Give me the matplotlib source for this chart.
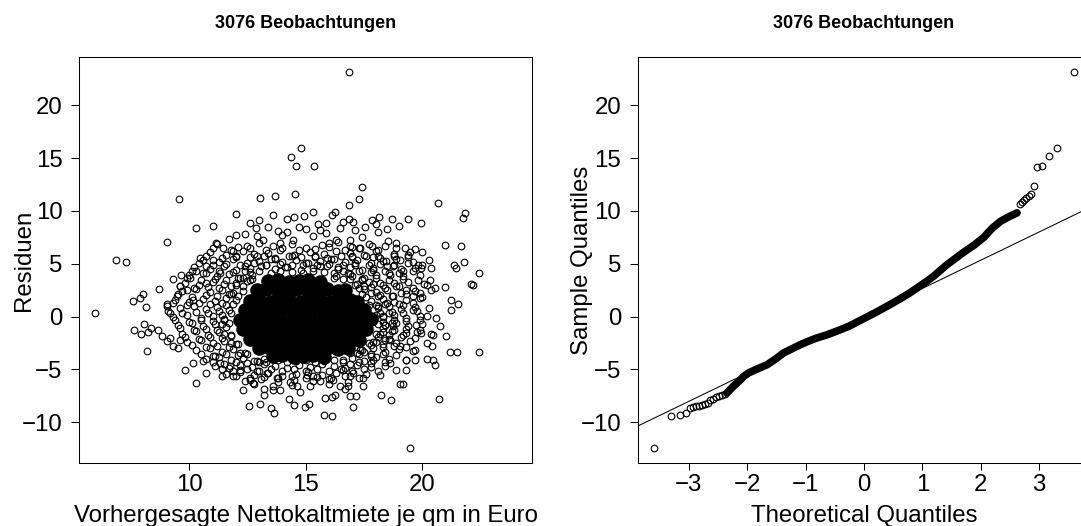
import matplotlib
matplotlib.use("Agg")
import matplotlib.pyplot as plt

plt.rcParams['font.family'] = ['Liberation Sans', 'DejaVu Sans']

TITLE = "3076 Beobachtungen"
X_LABEL_LEFT = "Vorhergesagte Nettokaltmiete je qm in Euro"
Y_LABEL_LEFT = "Residuen"
X_LABEL_RIGHT = "Theoretical Quantiles"
Y_LABEL_RIGHT = "Sample Quantiles"

# --- Residuen vs. vorhergesagte Werte ---
# einzeln sichtbare Punkte am Rand der Wolke
fitted_outer = [
    16.88, 14.78, 14.35, 14.58, 15.34, 17.40, 9.57, 13.03, 13.69, 14.54, 17.31,
    20.67, 16.88, 12.02, 10.27, 9.04, 6.87, 7.30, 5.95, 8.71, 7.58, 7.88, 8.01,
    8.15, 9.31, 9.63, 9.03, 9.06, 21.83, 21.76, 20.99, 21.69, 21.81, 21.36, 21.45,
    22.45, 22.10, 22.19, 21.25, 21.56, 21.25, 20.57, 20.97, 19.40, 19.96, 18.71,
    19.01, 18.15, 17.85, 18.12, 17.55, 17.12, 17.04, 16.87, 16.27, 16.11, 15.87,
    15.54, 14.95, 14.51, 14.18, 15.02, 14.22, 13.83, 13.39, 12.86, 12.40, 12.03,
    18.54, 18.90, 19.25, 19.69, 20.00, 19.40, 19.83, 19.97, 20.40, 20.33, 19.83,
    20.19, 19.90, 19.61, 19.33, 18.90, 18.61, 18.76, 19.16, 18.47, 18.11, 17.83,
    11.17, 11.46, 11.89, 10.46, 10.74, 11.03, 10.03, 10.31, 9.60, 9.89, 9.46,
    10.17, 9.17, 10.74, 11.32, 12.46, 13.18, 13.89, 14.46, 15.32, 15.89, 16.47,
    16.32, 16.90, 17.32, 19.04, 17.90, 18.18, 18.76, 19.18, 20.19, 19.61,
    13.0, 13.6, 15.3, 16.6, 12.6, 14.7, 15.6, 16.0, 17.4, 18.5, 11.0, 11.7, 12.9,
    14.0, 16.9, 18.0,
    19.46, 15.79, 16.12, 13.66, 13.52, 12.56, 13.03, 14.51, 14.96, 15.15, 17.05,
    15.82, 16.11, 16.27, 16.90, 17.17, 18.23, 18.68, 20.74, 14.29, 13.20, 12.29,
    13.20, 13.61, 13.89, 14.32, 14.75, 14.61, 16.48, 16.68, 17.47, 12.75, 12.60,
    10.29, 9.83, 8.20, 7.63, 7.94, 8.06, 8.21, 8.38, 8.64, 8.81, 9.03, 9.31, 9.53,
    9.17, 9.60, 10.17, 10.74, 10.60, 11.03, 11.42, 11.89, 12.17, 18.90, 19.04,
    19.18, 18.18, 19.33, 19.69, 20.19, 20.47, 20.54, 21.19, 21.50, 22.45, 20.44,
    21.04, 20.79, 20.47, 20.19, 19.97, 19.61, 19.33, 18.61, 17.90, 17.47, 17.04,
    16.61, 16.18, 15.61, 15.32, 15.04, 13.75, 13.32, 12.89, 11.75, 11.32, 16.90,
    17.32, 18.61, 19.04, 19.33, 18.76, 19.76,
]
resid_outer = [
    23.13, 15.97, 15.15, 14.24, 14.27, 12.31, 11.17, 11.27, 11.39, 11.62, 11.14,
    10.76, 10.57, 9.72, 8.40, 7.10, 5.37, 5.18, 0.32, 2.62, 1.48, 1.74, 2.15,
    0.88, 3.57, 3.98, 0.98, 1.20, 9.82, 9.34, 6.79, 6.72, 5.21, 4.89, 4.61,
    4.17, 3.13, 3.03, 1.61, 1.20, 0.66, 2.71, 2.81, 9.25, 8.87, 9.25,
    8.62, 9.44, 9.19, 7.99, 8.46, 8.24, 9.00, 9.28, 9.94, 9.66, 8.87,
    8.78, 9.50, 9.44, 9.25, 8.30, 8.02, 8.08, 8.49, 8.40, 7.86, 7.77,
    7.13, 6.98, 6.50, 6.41, 6.09, 5.87, 4.92, 4.61, 4.61, 3.50, 3.44,
    3.03, 2.24, 1.93, 2.56, 2.87, 3.98, 4.77, 4.29, 5.24, 5.71, 6.66,
    6.98, 6.50, 6.19, 5.56, 4.77, 5.40, 3.66, 4.29, 2.87, 2.56, 1.93,
    1.61, 0.35, 3.19, 4.13, 6.66, 7.29, 6.98, 7.29, 7.61, 7.92, 8.40,
    7.29, 7.29, 6.50, 5.40, 4.45, 3.19, 1.93, 1.14, 0.09, 0.66,
    9.1, 9.6, 9.9, 9.0, 8.9, 8.5, 8.2, 7.0, 7.5, 8.3, 8.6, 7.3, 7.6,
    7.7, 6.7, 8.8,
    -12.41, -9.34, -9.44, -9.12, -8.65, -8.43, -8.24, -8.36, -8.59, -8.27, -8.55,
    -7.70, -7.61, -7.39, -7.48, -7.54, -7.39, -7.86, -7.77, -7.77, -7.39, -6.98,
    -6.85, -6.91, -6.91, -6.22, -7.17, -6.60, -6.60, -6.85, -6.60, -6.28, -5.97,
    -6.28, -5.02, -3.22, -1.29, -1.61, -0.66, -1.48, -1.04, -1.29, -1.86, -2.34, -2.81, -2.97,
    -2.02, -2.18, -4.39, -5.33, -4.23, -3.76, -5.65, -5.65, -5.02, -5.02, -6.34,
    -6.34, -5.49, -5.02, -4.07, -4.01, -4.07, -4.55, -3.35, -3.35, -3.35, -2.81,
    -1.86, -0.85, -1.70, -2.49, -1.55, -3.28, -4.07, -4.39, -4.07, -5.81, -5.33,
    -5.02, -5.97, -6.12, -5.65, -5.49, -5.81, -5.33, -5.18, -4.70, -4.39, -3.44,
    -3.12, -2.18, -2.81, -1.55, -0.91, -0.76,
]

# dichte Zone um den Kern (geschaetzt)
fitted_halo = [
    11.2, 12.1, 13.0, 13.6, 14.4, 15.0, 15.7, 16.4, 17.0, 17.7, 18.4,
    10.9, 11.6, 12.3, 12.8, 13.4, 13.9, 14.5, 15.2, 15.8, 16.3, 16.9, 17.5, 18.0, 18.8, 19.5,
    10.6, 11.3, 11.9, 12.5, 13.0, 13.5, 14.0, 14.6, 15.1, 15.6, 16.1, 16.7, 17.2, 17.8, 18.3, 18.9, 19.6, 20.3,
    10.2, 10.9, 11.5, 12.0, 12.6, 13.1, 13.7, 14.2, 14.8, 15.3, 15.9, 16.4, 16.9, 17.4, 17.9, 18.5, 19.1, 19.7,
    10.0, 10.6, 11.2, 11.7, 12.2, 12.7, 16.3, 16.9, 17.5, 18.0, 18.6, 19.2, 19.9,
    9.8, 10.4, 11.0, 11.5, 12.0, 12.5, 17.2, 17.7, 18.3, 18.8, 19.4, 20.1,
    9.7, 10.3, 10.9, 11.4, 11.9, 12.3, 17.5, 18.0, 18.5, 19.1, 19.7, 20.4,
    9.4, 10.0, 10.6, 11.1, 11.6, 12.0, 17.8, 18.3, 18.8, 19.3, 19.9,
    9.6, 10.2, 10.7, 11.2, 11.7, 18.1, 18.6, 19.1, 19.7, 20.3,
    9.3, 9.9, 10.5, 11.0, 11.5, 18.3, 18.8, 19.3, 19.9, 20.6,
    9.5, 10.1, 10.6, 11.1, 11.6, 18.4, 18.9, 19.4, 20.0,
    9.7, 10.3, 10.8, 11.3, 11.8, 18.2, 18.7, 19.2, 19.8, 20.4,
    9.9, 10.5, 11.0, 11.5, 12.0, 17.9, 18.4, 18.9, 19.5,
    10.3, 10.9, 11.4, 11.9, 12.4, 17.4, 17.9, 18.4, 19.0, 19.7,
    10.7, 11.3, 11.8, 12.3, 12.8, 13.2, 16.6, 17.0, 17.5, 18.0, 18.6, 19.3,
    11.1, 11.7, 12.2, 12.7, 13.2, 13.7, 14.2, 14.7, 15.2, 15.7, 16.2, 16.7, 17.2, 17.8, 18.4,
    11.6, 12.2, 12.8, 13.4, 14.0, 14.6, 15.1, 15.7, 16.3, 16.9, 17.6,
    12.4, 13.1, 13.8, 14.5, 15.3, 16.0, 16.8,
    # innerer Ring direkt am Kern
    12.6, 13.0, 13.5, 13.9, 14.4, 14.9, 15.3, 15.8, 16.2, 16.6,
    12.3, 12.7, 16.2, 16.6, 17.0, 17.4,
    12.0, 12.3, 17.1, 17.5, 17.9,
    11.8, 12.1, 17.4, 17.8, 18.1,
    11.6, 11.9, 17.7, 18.1, 18.4,
    11.4, 11.8, 18.0, 18.3, 18.6,
    11.4, 11.7, 18.1, 18.4, 18.7,
    11.5, 11.8, 18.0, 18.3, 18.6,
    11.8, 12.1, 17.7, 18.0, 18.3,
    12.2, 12.5, 17.2, 17.5, 17.8,
    12.9, 13.3, 13.8, 14.2, 14.6, 15.0, 15.4, 15.8, 16.2, 16.6,
    12.4, 13.3, 14.1, 14.9, 15.6, 16.4, 17.1,
    12.0, 12.9, 13.7, 14.4, 15.4, 16.2, 17.0, 17.9,
]
resid_halo = [
    6.9, 6.6, 7.0, 6.7, 6.9, 6.5, 6.8, 7.1, 6.6, 6.9, 6.7,
    6.1, 5.8, 6.2, 5.9, 6.0, 6.3, 5.8, 6.1, 5.9, 6.2, 6.0, 5.8, 6.2, 5.9, 6.1,
    5.4, 5.2, 5.5, 5.1, 5.3, 5.5, 5.2, 5.4, 5.1, 5.3, 5.5, 5.2, 5.4, 5.1, 5.3, 5.5, 5.2, 5.4,
    4.7, 4.5, 4.8, 4.4, 4.6, 4.8, 4.5, 4.7, 4.4, 4.6, 4.8, 4.5, 4.7, 4.4, 4.6, 4.8, 4.5, 4.6,
    3.9, 4.1, 3.8, 4.0, 3.7, 3.9, 3.8, 4.0, 3.7, 3.9, 4.1, 3.8, 3.9,
    3.2, 3.0, 3.3, 3.1, 3.2, 3.4, 3.1, 3.3, 3.0, 3.2, 3.3, 3.1,
    2.4, 2.6, 2.3, 2.5, 2.2, 2.4, 2.6, 2.3, 2.5, 2.2, 2.4, 2.5,
    1.6, 1.4, 1.7, 1.5, 1.8, 1.6, 1.5, 1.7, 1.4, 1.6, 1.8,
    0.8, 1.0, 0.7, 0.9, 0.6, 0.8, 1.0, 0.7, 0.9, 0.8,
    0.0, 0.2, -0.1, 0.1, -0.2, 0.0, 0.2, -0.1, 0.1, -0.1,
    -0.8, -0.6, -0.9, -0.7, -1.0, -0.8, -0.6, -0.9, -0.7,
    -1.6, -1.4, -1.7, -1.5, -1.8, -1.6, -1.4, -1.7, -1.5, -1.6,
    -2.4, -2.2, -2.5, -2.3, -2.6, -2.4, -2.2, -2.5, -2.3,
    -3.2, -3.0, -3.3, -3.1, -3.4, -3.2, -3.0, -3.3, -3.1, -3.2,
    -4.0, -3.8, -4.1, -3.9, -4.2, -4.0, -4.1, -3.9, -4.2, -3.8, -4.0, -4.1,
    -4.7, -4.9, -4.6, -4.8, -4.5, -4.7, -4.9, -4.6, -4.8, -4.5, -4.7, -4.9, -4.6, -4.8, -4.7,
    -5.4, -5.2, -5.5, -5.3, -5.6, -5.4, -5.2, -5.5, -5.3, -5.6, -5.4,
    -6.1, -5.9, -6.2, -6.0, -6.1, -5.9, -6.2,
    4.2, 4.3, 4.1, 4.3, 4.2, 4.1, 4.3, 4.2, 4.1, 4.3,
    3.7, 3.6, 3.7, 3.6, 3.8, 3.6,
    3.0, 2.9, 3.0, 2.9, 3.1,
    2.1, 2.0, 2.1, 2.2, 2.0,
    1.1, 1.2, 1.1, 1.0, 1.2,
    0.2, 0.3, 0.2, 0.1, 0.3,
    -0.7, -0.6, -0.7, -0.8, -0.6,
    -1.6, -1.7, -1.6, -1.5, -1.7,
    -2.5, -2.6, -2.5, -2.4, -2.6,
    -3.4, -3.5, -3.4, -3.3, -3.5,
    -4.2, -4.3, -4.1, -4.3, -4.2, -4.1, -4.3, -4.2, -4.1, -4.3,
    4.8, 4.9, 4.7, 4.9, 4.8, 4.7, 4.9,
    5.6, 5.7, 5.5, 5.7, 5.6, 5.5, 5.7, 5.6,
]

# zweite Lage der dichten Zone, zwischen den Reihen oben (geschaetzt)
fitted_halo2 = [
    11.0, 11.8, 12.6, 13.3, 14.0, 14.7, 15.4, 16.0, 16.7, 17.3, 18.1, 18.9,
    10.7, 11.4, 12.0, 12.6, 13.2, 13.7, 14.3, 14.8, 15.4, 15.9, 16.5, 17.0, 17.6, 18.2, 18.8, 19.4,
    10.4, 11.0, 11.6, 12.2, 12.8, 13.3, 13.9, 14.4, 15.0, 15.5, 16.0, 16.6, 17.1, 17.7, 18.2, 18.8, 19.4, 20.0,
    10.1, 10.7, 11.3, 11.9, 12.4, 16.8, 17.3, 17.8, 18.4, 19.0, 19.6,
    9.9, 10.5, 11.1, 11.6, 12.1, 12.6, 16.9, 17.4, 18.0, 18.6, 19.2,
    9.6, 10.2, 10.8, 11.3, 11.8, 17.3, 17.8, 18.4, 19.0, 19.6,
    9.5, 10.1, 10.7, 11.2, 11.7, 17.6, 18.2, 18.7, 19.3, 20.0,
    9.3, 9.9, 10.4, 10.9, 11.4, 18.0, 18.5, 19.0, 19.6,
    9.1, 9.7, 10.3, 10.8, 11.3, 18.2, 18.7, 19.2, 19.8,
    9.4, 10.0, 10.5, 11.0, 11.5, 18.3, 18.8, 19.3, 19.9,
    9.6, 10.2, 10.7, 11.2, 18.3, 18.8, 19.3, 19.9,
    9.8, 10.4, 10.9, 11.4, 18.1, 18.6, 19.1, 19.7,
    10.1, 10.7, 11.2, 11.7, 17.8, 18.3, 18.8, 19.3,
    10.5, 11.1, 11.6, 12.1, 17.3, 17.8, 18.3, 18.9,
    11.0, 11.5, 12.0, 12.5, 13.0, 16.9, 17.3, 17.8, 18.4,
    11.4, 11.9, 12.5, 13.0, 13.5, 14.0, 14.5, 15.0, 15.5, 16.0, 16.5, 17.0, 17.5, 18.1,
    12.0, 12.6, 13.2, 13.8, 14.4, 15.0, 15.5, 16.1, 16.7, 17.3,
    12.8, 13.6, 14.4, 15.2, 16.0, 16.8,
]
resid_halo2 = [
    6.5, 6.3, 6.45, 6.35, 6.5, 6.3, 6.4, 6.55, 6.3, 6.45, 6.35, 6.5,
    5.75, 5.55, 5.7, 5.6, 5.75, 5.55, 5.7, 5.6, 5.75, 5.55, 5.7, 5.6, 5.75, 5.55, 5.7, 5.6,
    5.05, 4.85, 5.0, 4.9, 5.05, 4.85, 5.0, 4.9, 5.05, 4.85, 5.0, 4.9, 5.05, 4.85, 5.0, 4.9, 5.05, 4.85,
    4.35, 4.15, 4.3, 4.2, 4.35, 4.15, 4.3, 4.2, 4.35, 4.15, 4.3,
    3.65, 3.45, 3.6, 3.5, 3.65, 3.45, 3.6, 3.5, 3.65, 3.45, 3.6,
    2.9, 2.7, 2.85, 2.75, 2.9, 2.7, 2.85, 2.75, 2.9, 2.7,
    2.1, 1.9, 2.05, 1.95, 2.1, 1.9, 2.05, 1.95, 2.1, 1.9,
    1.3, 1.1, 1.25, 1.15, 1.3, 1.1, 1.25, 1.15, 1.3,
    0.5, 0.3, 0.45, 0.35, 0.5, 0.3, 0.45, 0.35, 0.5,
    -0.3, -0.5, -0.35, -0.45, -0.3, -0.5, -0.35, -0.45, -0.3,
    -1.1, -1.3, -1.15, -1.25, -1.1, -1.3, -1.15, -1.25,
    -1.9, -2.1, -1.95, -2.05, -1.9, -2.1, -1.95, -2.05,
    -2.7, -2.9, -2.75, -2.85, -2.7, -2.9, -2.75, -2.85,
    -3.5, -3.7, -3.55, -3.65, -3.5, -3.7, -3.55, -3.65,
    -4.25, -4.45, -4.3, -4.4, -4.25, -4.45, -4.3, -4.4, -4.25,
    -4.95, -5.15, -5.0, -5.1, -4.95, -5.15, -5.0, -5.1, -4.95, -5.15, -5.0, -5.1, -4.95, -5.15,
    -5.65, -5.85, -5.7, -5.8, -5.65, -5.85, -5.7, -5.8, -5.65, -5.85,
    -6.4, -6.6, -6.45, -6.55, -6.4, -6.6,
]

# voll geschwaerzter Kern (Ueberlagerung vieler Punkte, geschaetzt)
fitted_core = [
    13.4, 13.8, 14.3, 14.7, 15.1, 15.6,
    12.9, 13.3, 13.8, 14.2, 14.6, 15.1, 15.5, 15.9, 16.4, 16.7,
    12.6, 13.0, 13.5, 13.9, 14.3, 14.8, 15.2, 15.6, 16.1, 16.5, 16.9, 17.2,
    12.4, 12.8, 13.2, 13.7, 14.1, 14.5, 15.0, 15.4, 15.8, 16.3, 16.7, 17.1, 17.5,
    12.2, 12.6, 13.1, 13.5, 13.9, 14.4, 14.8, 15.2, 15.7, 16.1, 16.5, 17.0, 17.4, 17.8,
    12.3, 12.7, 13.2, 13.6, 14.0, 14.5, 14.9, 15.3, 15.8, 16.2, 16.6, 17.1, 17.6,
    12.6, 13.0, 13.4, 13.9, 14.3, 14.7, 15.2, 15.6, 16.0, 16.5, 16.9, 17.3,
    13.0, 13.4, 13.8, 14.3, 14.7, 15.1, 15.6, 16.0, 16.4, 16.8,
    13.6, 14.0, 14.5, 14.9, 15.3, 15.8,
]
resid_core = [
    3.4, 3.5, 3.3, 3.4, 3.5, 3.3,
    2.5, 2.6, 2.4, 2.5, 2.6, 2.4, 2.5, 2.6, 2.4, 2.5,
    1.5, 1.6, 1.4, 1.5, 1.6, 1.4, 1.5, 1.6, 1.4, 1.5, 1.6, 1.4,
    0.6, 0.7, 0.5, 0.6, 0.7, 0.5, 0.6, 0.7, 0.5, 0.6, 0.7, 0.5, 0.6,
    -0.3, -0.2, -0.4, -0.3, -0.2, -0.4, -0.3, -0.2, -0.4, -0.3, -0.2, -0.4, -0.3, -0.2,
    -1.2, -1.1, -1.3, -1.2, -1.1, -1.3, -1.2, -1.1, -1.3, -1.2, -1.1, -1.3, -1.2,
    -2.1, -2.0, -2.2, -2.1, -2.0, -2.2, -2.1, -2.0, -2.2, -2.1, -2.0, -2.2,
    -3.0, -2.9, -3.1, -3.0, -2.9, -3.1, -3.0, -2.9, -3.1, -3.0,
    -3.7, -3.6, -3.8, -3.7, -3.6, -3.8,
]

# --- Normal-QQ-Plot ---
qq_theo_tail = [
    -3.59, -3.30, -3.15, -3.05, -2.98, -2.93, -2.88, -2.83, -2.78, -2.73,
    -2.68, -2.63, -2.58, -2.53, -2.48, -2.43, -2.38,
    2.67, 2.70, 2.74, 2.78, 2.82, 2.86, 2.91, 2.97, 3.05, 3.16, 3.31, 3.60,
]
qq_sample_tail = [
    -12.43, -9.44, -9.34, -9.09, -8.65, -8.55, -8.50, -8.45, -8.40, -8.30,
    -8.15, -7.90, -7.75, -7.65, -7.55, -7.45, -7.30,
    10.70, 10.85, 11.08, 11.20, 11.40, 11.60, 12.34, 14.18, 14.24, 15.18, 15.97, 23.13,
]
qq_theo_band = [
    -2.35, -2.24, -2.12, -2.06, -1.98, -1.85, -1.66, -1.50, -1.38, -1.20,
    -1.09, -0.95, -0.81, -0.65, -0.52, -0.38, -0.235, -0.10, 0.05, 0.20,
    0.34, 0.48, 0.62, 0.77, 0.91, 1.05, 1.19, 1.30, 1.42, 1.55,
    1.65, 1.77, 1.88, 2.05, 2.20, 2.34, 2.48, 2.62,
]
qq_sample_band = [
    -7.23, -6.60, -6.00, -5.65, -5.33, -5.00, -4.55, -3.95, -3.44, -2.95,
    -2.65, -2.32, -2.02, -1.75, -1.48, -1.18, -0.85, -0.45, -0.03, 0.40,
    0.82, 1.25, 1.70, 2.20, 2.72, 3.25, 3.82, 4.35, 4.92, 5.45,
    5.87, 6.34, 6.75, 7.50, 8.40, 9.03, 9.45, 9.82,
]
qqline_intercept = 0.0
qqline_slope = 2.672

X_TICKS_LEFT = [10, 15, 20]
X_TICKS_RIGHT = [-3, -2, -1, 0, 1, 2, 3]
Y_TICKS = [-10, -5, 0, 5, 10, 15, 20]

FS = 17.3


def style_axes(ax, xticks, xlabel, ylabel):
    ax.set_xticks(xticks)
    ax.set_yticks(Y_TICKS)
    ax.tick_params(axis='x', direction='out', length=5, width=0.75, labelsize=FS, pad=3)
    ax.tick_params(axis='y', direction='out', length=6, width=0.75, labelsize=FS, pad=6)
    for sp in ax.spines.values():
        sp.set_linewidth(0.75)
    ax.set_xlabel(xlabel, fontsize=FS)
    ax.set_ylabel(ylabel, fontsize=FS)
    ax.xaxis.set_label_coords(0.5, -0.1035)
    ax.yaxis.set_label_coords(-0.0987, 0.5)
    ax.set_title(TITLE, fontsize=13, fontweight='bold', pad=21)


def main():
    fig = plt.figure(figsize=(10.81, 5.26), dpi=100)
    ax1 = fig.add_axes([0.07336, 0.11977, 0.41878, 0.77148])
    ax2 = fig.add_axes([0.58992, 0.11977, 0.41878, 0.77148])

    mk = dict(marker='o', mfc='none', mec='black', ms=4.8, mew=0.8, ls='none')

    # Residuenplot
    ax1.plot(fitted_core, resid_core, marker='o', color='black', ms=9.5, ls='none')
    ax1.plot(fitted_halo, resid_halo, **mk)
    ax1.plot(fitted_halo2, resid_halo2, **mk)
    ax1.plot(fitted_outer, resid_outer, **mk)
    ax1.set_xlim(5.28, 24.72)
    ax1.set_ylim(-13.85, 24.55)
    style_axes(ax1, X_TICKS_LEFT, X_LABEL_LEFT, Y_LABEL_LEFT)

    # QQ-Plot
    ax2.plot(qq_theo_band, qq_sample_band, color='black', lw=5.5,
             solid_capstyle='round', solid_joinstyle='round')
    ax2.plot(qq_theo_tail, qq_sample_tail, **mk)
    ax2.axline((0, qqline_intercept), slope=qqline_slope, color='black', lw=0.75)
    ax2.set_xlim(-3.876, 3.876)
    ax2.set_ylim(-13.85, 24.55)
    style_axes(ax2, X_TICKS_RIGHT, X_LABEL_RIGHT, Y_LABEL_RIGHT)

    fig.savefig('out.png', dpi=100)
    plt.close(fig)


if __name__ == "__main__":
    main()
